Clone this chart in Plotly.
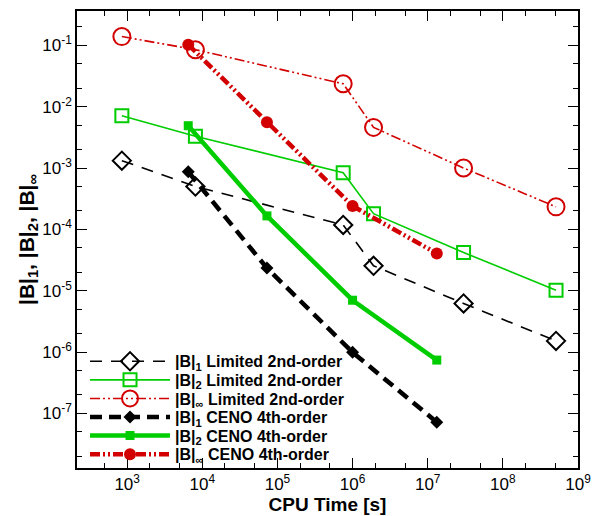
import plotly.graph_objects as go
import numpy as np

# Data
lim_time = [850, 8.1e3, 7.5e5, 1.9e6, 3.0e7, 5.1e8]
lim_L1 = [1.32e-3, 5.0e-4, 1.18e-4, 2.55e-5, 6.2e-6, 1.52e-6]
lim_L2 = [7.1e-3, 3.3e-3, 8.4e-4, 1.8e-4, 4.2e-5, 1.02e-5]
lim_Linf = [0.139, 0.085, 0.0236, 4.6e-3, 1.0e-3, 2.33e-4]

ceno_time = [6.5e3, 7.25e4, 1.0e6, 1.32e7]
ceno_L1 = [8.7e-4, 2.34e-5, 9.9e-7, 7.2e-8]
ceno_L2 = [4.9e-3, 1.66e-4, 7.0e-6, 7.4e-7]
ceno_Linf = [0.1026, 5.6e-3, 2.4e-4, 4.05e-5]

names = [
    "|B|<sub>1</sub> Limited 2nd-order",
    "|B|<sub>2</sub> Limited 2nd-order",
    "|B|<sub>∞</sub> Limited 2nd-order",
    "|B|<sub>1</sub> CENO 4th-order",
    "|B|<sub>2</sub> CENO 4th-order",
    "|B|<sub>∞</sub> CENO 4th-order",
]

x_tickvals = [1e3, 1e4, 1e5, 1e6, 1e7, 1e8, 1e9]
x_ticktext = ["10<sup>3</sup>", "10<sup>4</sup>", "10<sup>5</sup>", "10<sup>6</sup>",
              "10<sup>7</sup>", "10<sup>8</sup>", "10<sup>9</sup>"]
y_tickvals = [1e-7, 1e-6, 1e-5, 1e-4, 1e-3, 1e-2, 1e-1]
y_ticktext = ["10<sup>-7</sup>", "10<sup>-6</sup>", "10<sup>-5</sup>", "10<sup>-4</sup>",
              "10<sup>-3</sup>", "10<sup>-2</sup>", "10<sup>-1</sup>"]

RED = "rgb(210,0,0)"
GREEN = "rgb(0,205,0)"
BLACK = "black"
FONT = "Liberation Sans, Arial, sans-serif"

legend_ids = ["legend", "legend2", "legend3", "legend4", "legend5", "legend6"]

fig = go.Figure()
fig.add_trace(go.Scatter(x=lim_time, y=lim_L1, name=names[0], mode="lines+markers", legend=legend_ids[0],
                         line=dict(color=BLACK, width=1.6, dash="12px,9px"),
                         marker=dict(symbol="diamond-open", size=14, color=BLACK, line=dict(width=2))))
fig.add_trace(go.Scatter(x=lim_time, y=lim_L2, name=names[1], mode="lines+markers", legend=legend_ids[1],
                         line=dict(color=GREEN, width=1.6),
                         marker=dict(symbol="square-open", size=13, color=GREEN, line=dict(width=2))))
fig.add_trace(go.Scatter(x=lim_time, y=lim_Linf, name=names[2], mode="lines+markers", legend=legend_ids[2],
                         line=dict(color=RED, width=1.6, dash="10px,3px,2px,3px,2px,3px"),
                         marker=dict(symbol="circle-open", size=17, color=RED, line=dict(width=2))))
fig.add_trace(go.Scatter(x=ceno_time, y=ceno_L1, name=names[3], mode="lines+markers", legend=legend_ids[3],
                         line=dict(color=BLACK, width=4.5, dash="12px,7px"),
                         marker=dict(symbol="diamond", size=10, color=BLACK)))
fig.add_trace(go.Scatter(x=ceno_time, y=ceno_L2, name=names[4], mode="lines+markers", legend=legend_ids[4],
                         line=dict(color=GREEN, width=4.5),
                         marker=dict(symbol="square", size=9, color=GREEN)))
fig.add_trace(go.Scatter(x=ceno_time, y=ceno_Linf, name=names[5], mode="lines+markers", legend=legend_ids[5],
                         line=dict(color=RED, width=4.5, dash="10px,3px,2px,3px,2px,3px"),
                         marker=dict(symbol="circle", size=12, color=RED)))

axis_common = dict(
    type="log", showgrid=False, zeroline=False, showline=True, linecolor="black", linewidth=1.5,
    mirror="allticks", ticks="inside", ticklen=10, tickwidth=1.2, tickcolor="black",
    tickfont=dict(family=FONT, size=17, color="black"),
    minor=dict(ticks="inside", ticklen=5, tickwidth=1, tickcolor="black", showgrid=False),
)

fig.update_xaxes(**axis_common, range=[np.log10(215), 9], tickmode="array",
                 tickvals=x_tickvals, ticktext=x_ticktext,
                 title=dict(text="<b>CPU Time [s]</b>", standoff=0,
                            font=dict(family=FONT, size=19, color="black")))
fig.update_yaxes(**axis_common, range=[-7.89, -0.44], tickmode="array",
                 tickvals=y_tickvals, ticktext=y_ticktext,
                 title=dict(text="<b>|B|<sub>1</sub>, |B|<sub>2</sub>, |B|<sub>∞</sub></b>", standoff=2,
                            font=dict(family=FONT, size=21, color="black")))

legend_y = [0.2334, 0.1927, 0.152, 0.1113, 0.0707, 0.030]
legend_style = dict(x=0.016, xanchor="left", yanchor="middle", bgcolor="rgba(0,0,0,0)",
                    font=dict(size=16, family=FONT, color="black", weight="bold"),
                    itemwidth=80, tracegroupgap=0)

fig.update_layout(
    width=600, height=516,
    margin=dict(l=77, r=14, t=9, b=40),
    paper_bgcolor="white", plot_bgcolor="white",
    font=dict(family=FONT, color="black"),
    showlegend=True,
    **{lid: dict(y=ly, **legend_style) for lid, ly in zip(legend_ids, legend_y)},
)

fig.write_html("out.html")
